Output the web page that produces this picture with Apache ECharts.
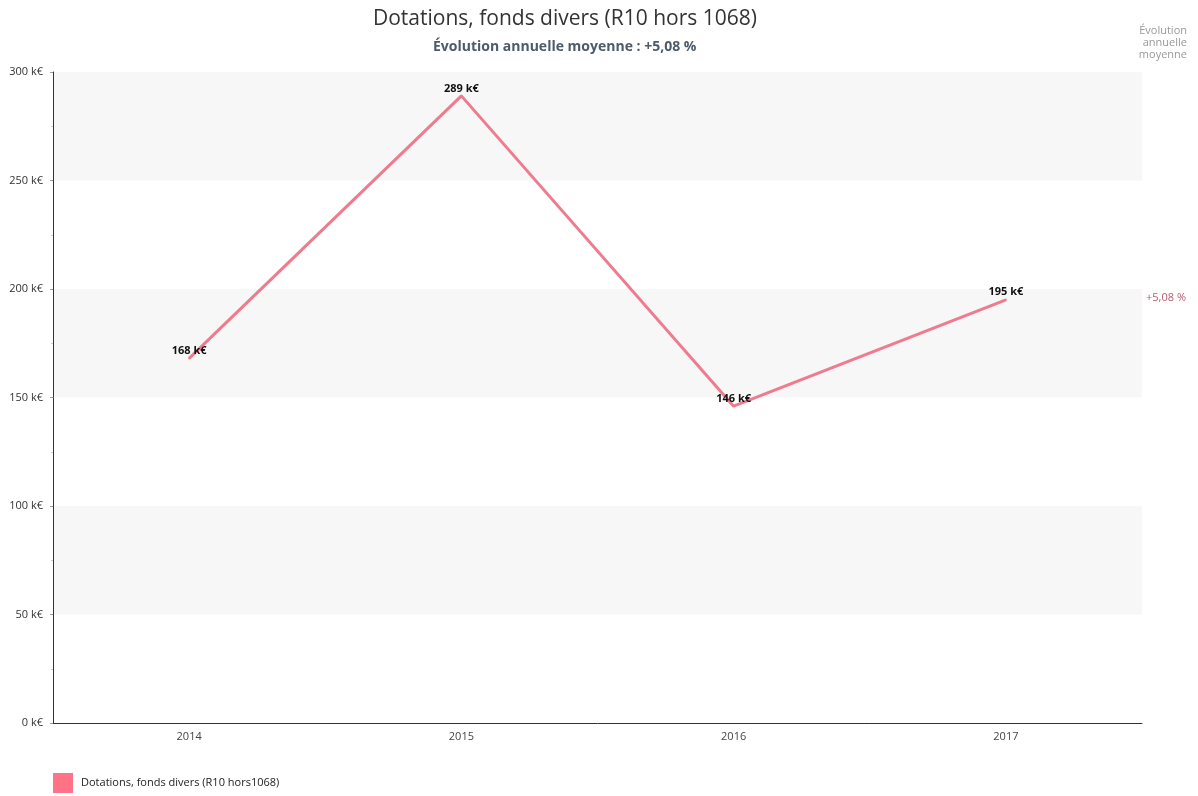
<!DOCTYPE html>
<html>
<head>
<meta charset="utf-8">
<script src="https://cdn.jsdelivr.net/npm/echarts@6/dist/echarts.min.js"></script>
<style>html,body{margin:0;padding:0;background:#fff}#c{width:1198px;height:796px}</style>
</head>
<body>
<div id="c"></div>
<script>
const categories = ['2014', '2015', '2016', '2017'];
const values = [168, 289, 146, 195];
const seriesName = 'Dotations, fonds divers (R10 hors1068)';
const titleText = 'Dotations, fonds divers (R10 hors 1068)';
const subtitleText = 'Évolution annuelle moyenne : +5,08 %';
const evolutionText = '+5,08 %';

const chart = echarts.init(document.getElementById('c'));
const font = '"Open Sans", "Noto Sans", sans-serif';
chart.setOption({
  animation: false,
  textStyle: { fontFamily: font },
  title: [{
    text: titleText,
    left: 368, top: 4,
    textStyle: { fontFamily: font, fontSize: 21, fontWeight: 'normal', color: '#333' }
  }, {
    text: subtitleText,
    left: 428, top: 35,
    textStyle: { fontFamily: font, fontSize: 14, fontWeight: 'bold', color: '#4d5b69' }
  }],
  legend: {
    left: 48, top: 768, itemWidth: 20, itemHeight: 20, icon: 'rect',
    textStyle: { fontFamily: font, fontSize: 11, color: '#222', padding: [0, 0, 0, 3] },
    data: [{ name: seriesName, itemStyle: { color: '#ff7388', opacity: 1 } }]
  },
  grid: { left: 53, right: 56, top: 72, bottom: 73 },
  xAxis: {
    type: 'category',
    data: categories,
    boundaryGap: true,
    axisLine: { lineStyle: { color: '#333', width: 1 } },
    axisTick: { alignWithLabel: true, length: 4, lineStyle: { color: '#999' } },
    axisLabel: { color: '#444', fontSize: 11, margin: 8, fontFamily: font }
  },
  yAxis: {
    type: 'value',
    min: 0, max: 300, interval: 50,
    axisLine: { show: true, lineStyle: { color: '#333', width: 1 } },
    axisTick: { show: true, length: 3, lineStyle: { color: '#999' } },
    minorTick: { show: true, splitNumber: 2, length: 2, lineStyle: { color: '#ccc' } },
    axisLabel: { color: '#333', fontSize: 11, margin: 10, formatter: v => v + ' k€', fontFamily: font },
    splitLine: { show: false },
    splitArea: { show: true, areaStyle: { color: ['#ffffff', '#f7f7f7'] } }
  },
  series: [{
    name: seriesName,
    type: 'line',
    data: values,
    symbol: 'circle',
    symbolSize: 2,
    showSymbol: true,
    color: '#ef7b8e',
    itemStyle: { color: '#ef7b8e' },
    lineStyle: { color: '#ef7b8e', width: 3 },
    label: {
      show: true, position: 'top', distance: 1,
      formatter: p => p.value + ' k€',
      color: '#111', fontSize: 11, fontWeight: 'bold', fontFamily: font
    }
  }],
  graphic: [
    { type: 'text', x: 1187, y: 25, style: { text: 'Évolution\nannuelle\nmoyenne', fill: '#999', font: '11px ' + font, align: 'right', lineHeight: 12 } },
    { type: 'text', x: 1186, y: 292, style: { text: evolutionText, fill: '#b85a72', font: '11px ' + font, align: 'right' } }
  ]
});
</script>
</body>
</html>
